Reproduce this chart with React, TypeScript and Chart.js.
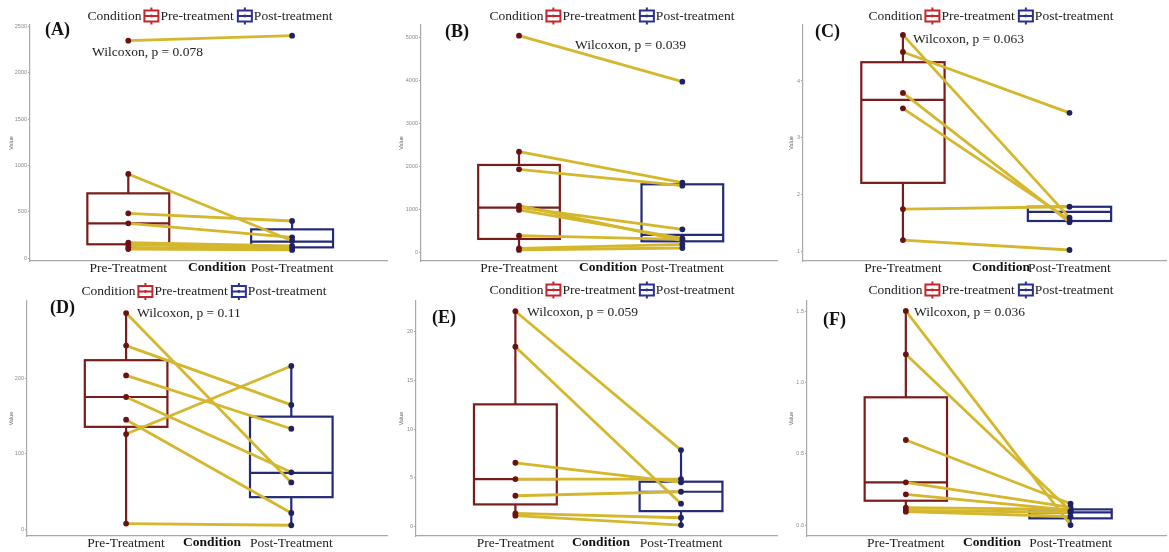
import React, { useEffect, useRef } from "react";
import { Chart, registerables } from "chart.js";

Chart.register(...registerables);

// ---------- data ----------
const conditionLabels = ["Pre-Treatment", "Post-Treatment"];
const legendLabels = ["Pre-treatment", "Post-treatment"];
const legendTitle = "Condition";
const axisTitleX = "Condition";
const axisTitleY = "Value";
const panelTags = ["(A)", "(B)", "(C)", "(D)", "(E)", "(F)"];
const pValueTexts = [
  "Wilcoxon, p = 0.078",
  "Wilcoxon, p = 0.039",
  "Wilcoxon, p = 0.063",
  "Wilcoxon, p = 0.11",
  "Wilcoxon, p = 0.059",
  "Wilcoxon, p = 0.036",
];

// paired values (pre[i] -> post[i])
const preA = [2345, 909, 485, 377, 169, 151, 118, 100];
const postA = [2399, 190, 402, 226, 133, 108, 100, 90];
const preB = [5048, 2345, 1934, 1087, 1048, 986, 388, 93, 54];
const postB = [3976, 1623, 1553, 272, 536, 326, 300, 186, 100];
const preC = [4.81, 4.51, 3.79, 3.52, 1.75, 1.205];
const postC = [1.6, 3.44, 1.52, 1.56, 1.79, 1.03];
const preD = [286, 243, 203.5, 175, 145, 126, 7.5];
const postD = [62, 164.5, 133, 75.4, 21.5, 216, 5.3];
const preE = [22.1, 18.46, 6.56, 4.89, 3.18, 1.37, 1.13];
const postE = [7.86, 2.36, 4.55, 4.89, 3.59, 0.92, 0.17];
const preF = [1.505, 1.2, 0.598, 0.3, 0.216, 0.122, 0.103, 0.094];
const postF = [0.0, 0.1, 0.15, 0.124, 0.105, 0.11, 0.09, 0.06];

// box statistics: [lower whisker, Q1, median, Q3, upper whisker]
const boxPreA = [100, 151, 377, 700, 909];
const boxPostA = [90, 118, 180, 312, 402];
const boxPreB = [54, 311, 1041, 2035, 2345];
const boxPostB = [70, 256, 404, 1584, 1623];
const boxPreC = [1.205, 2.21, 3.67, 4.33, 4.81];
const boxPostC = [1.52, 1.54, 1.7, 1.79, 1.79];
const boxPreD = [7.5, 135.5, 175, 223.7, 286];
const boxPostD = [5.3, 42.5, 74.6, 149, 216];
const boxPreE = [1.13, 2.29, 4.89, 12.55, 22.1];
const boxPostE = [0.17, 1.6, 3.59, 4.62, 7.86];
const boxPreF = [0.094, 0.171, 0.3, 0.898, 1.505];
const boxPostF = [0.0, 0.047, 0.089, 0.11, 0.15];

// y tick values
const yTicksA = [0, 500, 1000, 1500, 2000, 2500];
const yTicksB = [0, 1000, 2000, 3000, 4000, 5000];
const yTicksC = [1, 2, 3, 4];
const yTicksD = [0, 100, 200];
const yTicksE = [0, 5, 10, 15, 20];
const yTicksF = [0, 0.5, 1.0, 1.5];
const yDecimals = [0, 0, 0, 0, 0, 1];

// ---------- layout / style ----------
const SERIF = '"Liberation Serif", "Times New Roman", Times, serif';
const SANS = '"Liberation Sans", Arial, sans-serif';
const LINE_COL = "#D4B72C";
const PRE_BOX = "#7A1C1C";
const POST_BOX = "#252A78";
const PRE_PT = "#6A1212";
const POST_PT = "#1E2266";
const LEG_PRE = "#C4262B";
const LEG_POST = "#2C3090";
const AXIS_COL = "#A8A8A8";

const layouts = [
  { left: 0, top: 0, width: 390, height: 276, axisWidth: 30, plotBottom: 261, yMin: -29, yMax: 2514, tagX: 45, tagY: 30, statX: 92, statY: 52, legendX: 210, legendY: 16, titleX: 217 },
  { left: 390, top: 0, width: 390, height: 276, axisWidth: 31, plotBottom: 261, yMin: -203, yMax: 5296, tagX: 55, tagY: 32, statX: 185, statY: 45, legendX: 222, legendY: 16, titleX: 218 },
  { left: 780, top: 0, width: 389, height: 276, axisWidth: 23, plotBottom: 261, yMin: 0.837, yMax: 4.984, tagX: 35, tagY: 32, statX: 133, statY: 39, legendX: 211, legendY: 16, titleX: 221 },
  { left: 0, top: 276, width: 390, height: 276, axisWidth: 27, plotBottom: 260, yMin: -8.9, yMax: 302, tagX: 50, tagY: 32, statX: 137, statY: 37, legendX: 204, legendY: 15.5, titleX: 212 },
  { left: 390, top: 276, width: 390, height: 276, axisWidth: 26, plotBottom: 260, yMin: -0.95, yMax: 23.15, tagX: 42, tagY: 42, statX: 137, statY: 36, legendX: 222, legendY: 14, titleX: 211 },
  { left: 780, top: 276, width: 389, height: 276, axisWidth: 27, plotBottom: 260, yMin: -0.077, yMax: 1.575, tagX: 43, tagY: 44, statX: 134, statY: 36, legendX: 211, legendY: 14, titleX: 212 },
];

const panelData = [
  { pre: preA, post: postA, boxPre: boxPreA, boxPost: boxPostA, yTicks: yTicksA },
  { pre: preB, post: postB, boxPre: boxPreB, boxPost: boxPostB, yTicks: yTicksB },
  { pre: preC, post: postC, boxPre: boxPreC, boxPost: boxPostC, yTicks: yTicksC },
  { pre: preD, post: postD, boxPre: boxPreD, boxPost: boxPostD, yTicks: yTicksD },
  { pre: preE, post: postE, boxPre: boxPreE, boxPost: boxPostE, yTicks: yTicksE },
  { pre: preF, post: postF, boxPre: boxPreF, boxPost: boxPostF, yTicks: yTicksF },
];

function drawLegendIcon(ctx: CanvasRenderingContext2D, x0: number, cy: number, col: string) {
  const w = 14;
  const cx = x0 + w / 2;
  ctx.save();
  ctx.strokeStyle = col;
  ctx.lineWidth = 2;
  ctx.beginPath();
  ctx.moveTo(cx, cy - 8.5);
  ctx.lineTo(cx, cy + 8.5);
  ctx.stroke();
  ctx.fillStyle = "#fff";
  ctx.fillRect(x0, cy - 5.5, w, 11);
  ctx.strokeRect(x0, cy - 5.5, w, 11);
  ctx.beginPath();
  ctx.moveTo(x0, cy);
  ctx.lineTo(x0 + w, cy);
  ctx.stroke();
  ctx.fillStyle = col;
  ctx.beginPath();
  ctx.arc(cx, cy, 1.4, 0, Math.PI * 2);
  ctx.fill();
  ctx.restore();
}

function Panel({ idx }: { idx: number }) {
  const ref = useRef<HTMLCanvasElement>(null);
  const lay = layouts[idx];
  const d = panelData[idx];

  useEffect(() => {
    const canvas = ref.current!;
    const datasets = d.pre.map((v, i) => ({
      data: [
        { x: 1, y: v },
        { x: 2, y: d.post[i] },
      ],
      borderColor: LINE_COL,
      borderWidth: 2.8,
      pointRadius: 2.9,
      pointHoverRadius: 2.9,
      pointBorderWidth: 0,
      pointBackgroundColor: [PRE_PT, POST_PT],
      fill: false,
      tension: 0,
    }));

    const boxPlugin = {
      id: "boxes" + idx,
      beforeDatasetsDraw(chart: any) {
        const { ctx, scales } = chart;
        const xs = scales.x;
        const ys = scales.y;
        const items: [number, number[], string][] = [
          [1, d.boxPre, PRE_BOX],
          [2, d.boxPost, POST_BOX],
        ];
        items.forEach(([pos, b, col]) => {
          const xl = xs.getPixelForValue(pos - 0.25);
          const xr = xs.getPixelForValue(pos + 0.25);
          const xc = xs.getPixelForValue(pos);
          const [lo, q1, med, q3, hi] = b.map((v) => ys.getPixelForValue(v));
          ctx.save();
          ctx.strokeStyle = col;
          ctx.lineWidth = 2.2;
          ctx.beginPath();
          ctx.moveTo(xc, q3);
          ctx.lineTo(xc, hi);
          ctx.moveTo(xc, q1);
          ctx.lineTo(xc, lo);
          ctx.stroke();
          ctx.fillStyle = "#fff";
          ctx.fillRect(xl, q3, xr - xl, q1 - q3);
          ctx.strokeRect(xl, q3, xr - xl, q1 - q3);
          ctx.beginPath();
          ctx.moveTo(xl, med);
          ctx.lineTo(xr, med);
          ctx.stroke();
          ctx.restore();
        });
      },
    };

    const overlayPlugin = {
      id: "overlay" + idx,
      afterDraw(chart: any) {
        const { ctx, scales } = chart;
        ctx.save();
        // legend
        ctx.font = `13.5px ${SERIF}`;
        ctx.textBaseline = "middle";
        ctx.fillStyle = "#222";
        const wT = ctx.measureText(legendTitle).width;
        const w1 = ctx.measureText(legendLabels[0]).width;
        const w2 = ctx.measureText(legendLabels[1]).width;
        const iconW = 14;
        const total = wT + 3 + iconW + 2 + w1 + 4 + iconW + 2 + w2;
        let x = lay.legendX - total / 2;
        const ly = lay.legendY;
        ctx.textAlign = "left";
        ctx.fillText(legendTitle, x, ly);
        x += wT + 3;
        drawLegendIcon(ctx, x, ly, LEG_PRE);
        x += iconW + 2;
        ctx.fillStyle = "#222";
        ctx.fillText(legendLabels[0], x, ly);
        x += w1 + 4;
        drawLegendIcon(ctx, x, ly, LEG_POST);
        x += iconW + 2;
        ctx.fillStyle = "#222";
        ctx.fillText(legendLabels[1], x, ly);

        // panel tag
        ctx.font = `bold 18px ${SERIF}`;
        ctx.fillStyle = "#111";
        ctx.fillText(panelTags[idx], lay.tagX, lay.tagY);

        // wilcoxon label
        ctx.font = `13.5px ${SERIF}`;
        ctx.fillStyle = "#222";
        ctx.fillText(pValueTexts[idx], lay.statX, lay.statY);

        // x axis title (on tick label row)
        ctx.font = `bold 13.5px ${SERIF}`;
        ctx.textAlign = "center";
        ctx.fillStyle = "#111";
        ctx.fillText(axisTitleX, lay.titleX, scales.x.top + 7);
        ctx.restore();
      },
    };

    const chart = new Chart(canvas, {
      type: "line",
      data: { datasets } as any,
      options: {
        responsive: false,
        animation: false,
        events: [],
        layout: { padding: { top: 25, left: 0, right: 0, bottom: 0 } },
        plugins: { legend: { display: false }, tooltip: { enabled: false } },
        scales: {
          x: {
            type: "linear",
            min: 0.4,
            max: 2.58,
            afterBuildTicks: (s: any) => {
              s.ticks = [{ value: 1 }, { value: 2 }];
            },
            afterFit: (s: any) => {
              s.height = lay.height - lay.plotBottom;
            },
            ticks: {
              autoSkip: false,
              maxRotation: 0,
              padding: -1,
              color: "#222",
              font: { family: SERIF, size: 13.5 },
              callback: (v: any) => conditionLabels[Number(v) - 1] ?? "",
            },
            grid: { display: false, drawTicks: false },
            border: { display: true, color: AXIS_COL, width: 1.2 },
          },
          y: {
            type: "linear",
            min: lay.yMin,
            max: lay.yMax,
            afterBuildTicks: (s: any) => {
              s.ticks = d.yTicks.map((v) => ({ value: v }));
            },
            afterFit: (s: any) => {
              s.width = lay.axisWidth;
            },
            ticks: {
              autoSkip: false,
              padding: 1,
              color: "#8a8a8a",
              font: { family: SANS, size: 5.5 },
              callback: (v: any) => Number(v).toFixed(yDecimals[idx]),
            },
            title: {
              display: true,
              text: axisTitleY,
              color: "#666",
              font: { family: SANS, size: 5.5 },
              padding: { top: 8, bottom: 0 },
            },
            grid: {
              display: true,
              drawOnChartArea: false,
              drawTicks: true,
              tickLength: 2,
              color: AXIS_COL,
            },
            border: { display: true, color: AXIS_COL, width: 1.2 },
          },
        },
      } as any,
      plugins: [boxPlugin, overlayPlugin],
    });
    return () => chart.destroy();
  }, []);

  return (
    <div
      style={{
        position: "absolute",
        left: lay.left,
        top: lay.top,
        width: lay.width,
        height: lay.height,
      }}
    >
      <canvas
        ref={ref}
        width={lay.width}
        height={lay.height}
        style={{ width: lay.width, height: lay.height, display: "block" }}
      />
    </div>
  );
}

export default function App() {
  return (
    <div
      style={{
        position: "absolute",
        left: 0,
        top: 0,
        width: 1169,
        height: 552,
        background: "#fff",
        overflow: "hidden",
      }}
    >
      {layouts.map((_, i) => (
        <Panel key={i} idx={i} />
      ))}
    </div>
  );
}
